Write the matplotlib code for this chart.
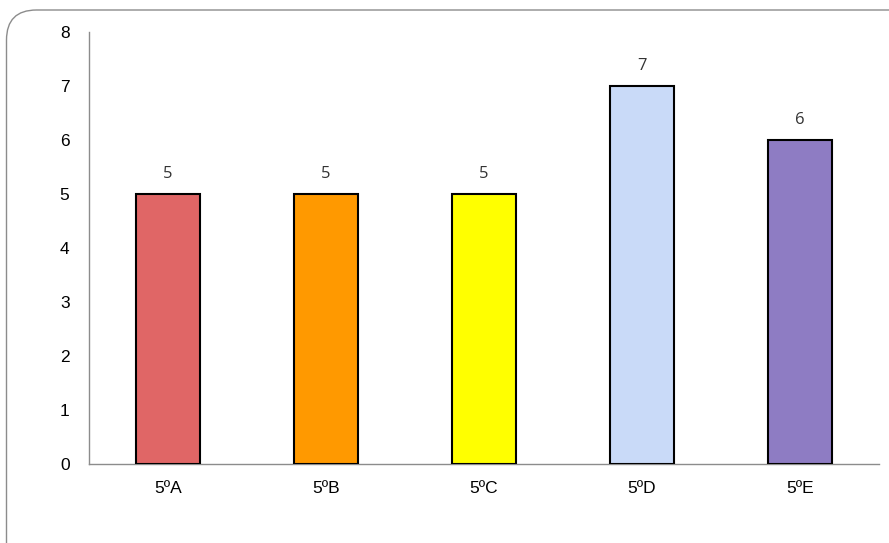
import matplotlib
matplotlib.use("Agg")
import matplotlib.pyplot as plt
from matplotlib.patches import FancyBboxPatch

categories = ["5ºA", "5ºB", "5ºC", "5ºD", "5ºE"]
values = [5, 5, 5, 7, 6]
colors = ["#e06666", "#ff9900", "#ffff00", "#c9daf8", "#8e7cc3"]

fig = plt.figure(figsize=(8.89, 5.43), dpi=100)

# rounded chart frame (in inches)
frame = FancyBboxPatch((0.065, -0.5), 9.2, 5.33 + 0.5, boxstyle="round,pad=0,rounding_size=0.3",
                       transform=fig.dpi_scale_trans, facecolor="white", edgecolor="#8c8c8c",
                       linewidth=1.0, zorder=-1)
fig.patches.append(frame)

ax = fig.add_axes([0.1001, 0.1455, 0.8887, 0.7955])
ax.patch.set_alpha(0)
x = range(len(categories))
bars = ax.bar(x, values, width=0.4, color=colors, edgecolor="black", linewidth=1.5, zorder=3)

for xi, v in zip(x, values):
    ax.text(xi, v + 0.22, str(v), ha="center", va="bottom", fontsize=12,
            family="Open Sans", color="#333333")

ax.set_xlim(-0.5, len(categories) - 0.5)
ax.set_ylim(0, 8)
ax.set_yticks(range(0, 9))
ax.set_xticks(list(x))
ax.set_xticklabels(categories, family="Liberation Sans", fontsize=12.5)
for lbl in ax.get_yticklabels():
    lbl.set_family("Liberation Sans")
    lbl.set_fontsize(12.5)
ax.tick_params(length=0, pad=14)
ax.tick_params(axis="x", pad=12)
for s in ["top", "right"]:
    ax.spines[s].set_visible(False)
for s in ["left", "bottom"]:
    ax.spines[s].set_color("#8c8c8c")
    ax.spines[s].set_linewidth(1.0)

fig.savefig("out.png", dpi=100)
